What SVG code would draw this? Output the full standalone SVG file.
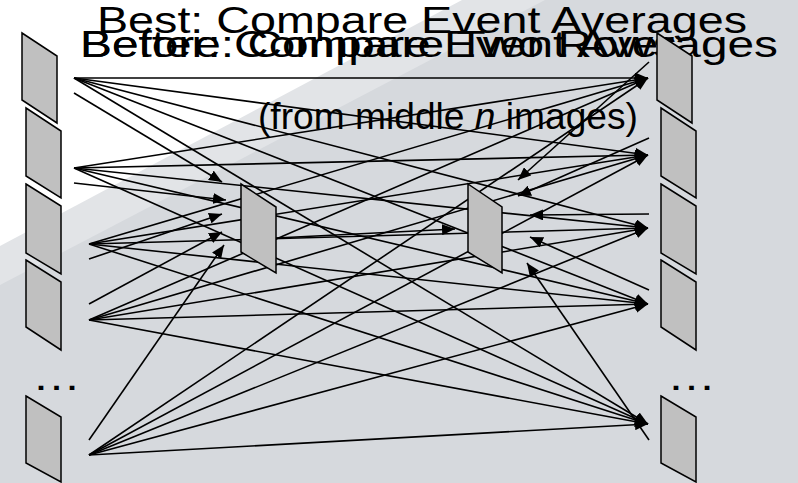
<svg xmlns="http://www.w3.org/2000/svg" width="798" height="483" viewBox="0 0 798 483">
<defs>
<marker id="ah" markerUnits="userSpaceOnUse" markerWidth="13" markerHeight="11" refX="13" refY="5.5" orient="auto"><path d="M0,0 L13,5.5 L0,11 z" fill="#000"/></marker>
<style>
.pn{fill:#c0c0c0;stroke:#000;stroke-width:1.5}
.t{font-family:"Liberation Sans",Arial,sans-serif;fill:#000}
#conn line{stroke:#000;stroke-width:1.6}
#conn line.a{marker-end:url(#ah)}
</style>
</defs>
<rect width="798" height="483" fill="#d6d9dd"/>
<polygon points="0,0 545,0 0,285" fill="#e2e4e7"/>
<polygon points="0,0 462,0 0,246" fill="#ffffff"/>
<g id="titles">
<text class="t" x="97" y="33" font-size="37" textLength="650" lengthAdjust="spacingAndGlyphs">Best: Compare Event Averages</text>
<text class="t" x="80" y="57" font-size="37" textLength="698" lengthAdjust="spacingAndGlyphs">Better: Compare Event Averages</text>
<text class="t" x="80" y="57" font-size="37" textLength="597" lengthAdjust="spacingAndGlyphs">Before: Compare Two Rows</text>
<text class="t" x="258" y="129" font-size="37" textLength="380" lengthAdjust="spacingAndGlyphs">(from middle <tspan font-style="italic">n</tspan> images)</text>
</g>
<g id="conn">
<line class="a" x1="74" y1="78" x2="648" y2="78"/>
<line class="a" x1="74" y1="78" x2="648" y2="155"/>
<line class="a" x1="74" y1="78" x2="648" y2="228"/>
<line class="a" x1="74" y1="78" x2="648" y2="304"/>
<line class="a" x1="74" y1="78" x2="648" y2="424"/>
<line class="a" x1="74" y1="168" x2="648" y2="78"/>
<line class="a" x1="74" y1="168" x2="648" y2="155"/>
<line class="a" x1="74" y1="168" x2="648" y2="228"/>
<line class="a" x1="74" y1="168" x2="648" y2="304"/>
<line class="a" x1="74" y1="168" x2="648" y2="424"/>
<line class="a" x1="89" y1="244" x2="648" y2="78"/>
<line class="a" x1="89" y1="244" x2="648" y2="155"/>
<line class="a" x1="89" y1="244" x2="648" y2="228"/>
<line class="a" x1="89" y1="244" x2="648" y2="304"/>
<line class="a" x1="89" y1="244" x2="648" y2="424"/>
<line class="a" x1="89" y1="320" x2="648" y2="78"/>
<line class="a" x1="89" y1="320" x2="648" y2="155"/>
<line class="a" x1="89" y1="320" x2="648" y2="228"/>
<line class="a" x1="89" y1="320" x2="648" y2="304"/>
<line class="a" x1="89" y1="320" x2="648" y2="424"/>
<line class="a" x1="89" y1="455" x2="648" y2="78"/>
<line class="a" x1="89" y1="455" x2="648" y2="155"/>
<line class="a" x1="89" y1="455" x2="648" y2="228"/>
<line class="a" x1="89" y1="455" x2="648" y2="304"/>
<line class="a" x1="89" y1="455" x2="648" y2="424"/>
<line class="a" x1="74" y1="93" x2="222" y2="182"/>
<line class="a" x1="74" y1="183" x2="226" y2="200"/>
<line class="a" x1="89" y1="259" x2="222" y2="214"/>
<line class="a" x1="89" y1="304" x2="222" y2="232"/>
<line class="a" x1="89" y1="440" x2="224" y2="245"/>
<line class="a" x1="649" y1="62" x2="518" y2="180"/>
<line class="a" x1="649" y1="138" x2="518" y2="196"/>
<line class="a" x1="649" y1="214" x2="530" y2="215"/>
<line class="a" x1="649" y1="290" x2="530" y2="237"/>
<line class="a" x1="649" y1="440" x2="527" y2="263"/>
<line class="a" x1="276" y1="238" x2="455" y2="229"/>
</g>
<g id="left1"><polygon class="pn" points="22,33 57,56 57,123 22,100"/></g>
<g id="left2"><polygon class="pn" points="26,108 61,131 61,198 26,176"/></g>
<g id="left3"><polygon class="pn" points="26,184 61,206 61,274 26,253"/></g>
<g id="left4"><polygon class="pn" points="26,260 61,282 61,350 26,327"/></g>
<g id="left5"><polygon class="pn" points="26,396 61,417 61,482 26,463"/></g>
<g id="right1"><polygon class="pn" points="657,33 692,56 692,123 657,100"/></g>
<g id="right2"><polygon class="pn" points="661,108 696,131 696,198 661,176"/></g>
<g id="right3"><polygon class="pn" points="661,184 696,206 696,274 661,253"/></g>
<g id="right4"><polygon class="pn" points="661,260 696,282 696,350 661,327"/></g>
<g id="right5"><polygon class="pn" points="661,396 696,417 696,482 661,463"/></g>
<g id="mid1"><polygon class="pn" points="241,184 276,207 276,273 241,252"/></g>
<g id="mid2"><polygon class="pn" points="468,184 502,207 502,273 468,252"/></g>
<g id="dots">
<text class="t" x="32" y="390" font-size="40" textLength="49" lengthAdjust="spacingAndGlyphs">…</text>
<text class="t" x="667" y="390" font-size="40" textLength="49" lengthAdjust="spacingAndGlyphs">…</text>
</g>
</svg>
